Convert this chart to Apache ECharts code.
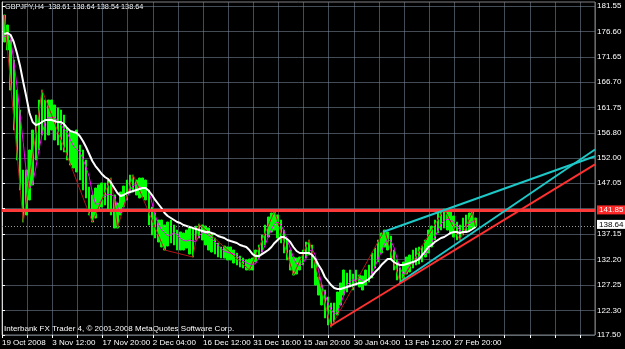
<!DOCTYPE html>
<html>
<head>
<meta charset="utf-8">
<style>html,body{margin:0;padding:0;background:#000;}#c{width:625px;height:349px;}</style>
<script src="https://cdn.jsdelivr.net/npm/echarts@6/dist/echarts.min.js"></script>
</head>
<body>
<div id="c"></div>
<script>
// ---- data (GBPJPY H4, one entry per 4 H4 bars) ----
const dateLabels = ["19 Oct 2008","3 Nov 12:00","17 Nov 20:00","2 Dec 04:00","16 Dec 12:00","31 Dec 16:00","15 Jan 20:00","30 Jan 04:00","13 Feb 12:00","27 Feb 20:00"];
const priceLabels = [117.50,122.30,127.25,132.20,137.15,147.05,152.00,156.80,161.75,166.70,171.65,176.60,181.55];
const gridLevels = [117.50,122.30,127.25,132.20,137.15,142.10,147.05,152.00,156.80,161.75,166.70,171.65,176.60,181.55];
const titleText = "GBPJPY,H4  138.61 138.64 138.54 138.64";
const footerText = "Interbank FX Trader 4, \u00A9 2001-2008 MetaQuotes Software Corp.";
const resistance = 141.85;
const bid = 138.64;

const highs = [179.79,177.84,174.92,171.03,165.19,161.30,149.62,149.62,153.51,157.40,
160.32,163.24,165.19,163.24,163.24,163.24,162.27,161.69,161.30,160.32,
157.79,157.01,156.82,157.40,154.48,153.51,151.56,146.31,144.75,146.11,
146.70,147.09,147.09,147.67,148.06,144.75,143.19,145.33,146.50,147.67,
148.64,148.64,147.67,148.06,148.06,147.67,145.72,142.41,141.25,139.88,
139.88,138.91,139.49,139.88,138.91,137.93,137.55,137.35,137.93,138.32,
138.32,138.71,139.10,138.91,138.71,138.32,137.16,136.38,135.41,134.63,
134.82,134.63,134.63,134.04,133.46,132.87,132.48,132.10,132.29,132.48,
134.04,135.02,136.96,138.91,140.47,141.25,141.64,140.86,139.88,137.93,
135.99,134.04,132.68,132.48,132.68,134.04,135.60,135.99,135.02,131.71,
128.79,127.23,126.26,124.89,123.73,123.73,125.87,127.62,130.15,129.56,
130.15,129.37,130.15,129.17,128.98,130.15,131.12,133.46,134.43,135.99,
137.35,137.93,137.55,136.77,134.04,132.10,130.54,131.71,132.68,133.07,
134.04,134.43,134.63,134.82,135.99,137.93,138.71,139.88,141.25,141.83,
142.02,141.44,141.83,140.66,139.49,138.91,140.27,140.86,141.25,141.44,
140.27];
const lows = [174.53,172.98,165.19,157.40,151.56,145.72,139.49,140.86,143.78,146.70,
151.56,153.51,156.43,155.46,156.43,157.40,155.46,154.48,153.51,153.12,
151.56,150.59,150.01,149.23,147.67,145.72,144.17,140.86,139.49,140.27,
141.83,142.41,142.80,141.83,140.86,138.32,138.32,140.86,142.41,143.78,
145.14,145.33,144.75,144.17,144.36,143.78,138.91,136.96,136.38,135.60,
134.63,134.04,134.82,135.41,135.02,134.04,134.04,134.04,134.43,133.26,
132.68,135.99,136.38,135.99,135.02,134.04,133.65,133.26,132.68,132.48,
132.48,132.10,132.10,131.51,131.12,130.73,130.54,130.15,130.15,130.15,
131.71,132.48,133.65,135.02,136.57,137.55,137.93,136.38,135.41,133.46,
132.10,130.15,129.17,129.37,130.15,131.12,132.48,133.07,130.54,127.23,
125.28,123.34,120.81,119.44,119.05,120.03,121.39,123.34,125.28,125.87,
126.84,126.26,127.23,126.84,126.26,127.23,127.81,128.59,130.54,131.71,
133.46,134.63,134.04,132.10,130.15,128.20,127.62,128.20,129.37,129.76,
130.54,131.12,131.32,131.71,132.68,133.46,134.63,135.99,137.35,137.93,
138.32,137.93,137.35,136.57,135.99,135.99,136.96,137.74,137.93,138.32,
138.52];
const slowMA = [176.09,176.29,175.90,174.53,172.39,169.86,166.75,163.83,160.71,158.96,
158.38,158.57,158.96,159.35,159.35,159.35,159.15,158.96,158.96,158.57,
157.79,157.21,157.01,156.82,156.23,155.26,154.09,152.73,151.37,150.39,
149.62,148.84,148.26,147.87,147.09,146.11,145.14,144.55,144.75,145.14,
145.33,145.53,145.72,145.92,146.11,146.11,145.53,144.75,143.78,143.00,
142.22,141.25,140.66,140.27,139.88,139.49,139.30,138.91,138.71,138.52,
138.32,138.13,137.93,137.74,137.55,137.55,137.35,137.16,136.77,136.57,
136.38,135.99,135.79,135.60,135.41,135.02,134.82,134.63,134.04,133.26,
132.87,132.87,133.26,133.65,134.04,134.63,135.41,135.99,136.57,136.57,
136.18,135.60,134.63,133.85,133.46,133.46,133.46,133.46,133.07,132.29,
131.12,130.15,128.79,128.01,127.23,126.65,126.45,126.45,126.65,126.84,
127.04,127.23,127.42,127.62,127.62,128.01,128.40,128.98,129.76,130.34,
131.12,131.71,132.29,132.29,131.71,131.32,131.12,131.12,131.32,131.51,
131.71,131.90,132.29,133.07,133.85,134.63,135.02,135.60,135.99,136.38,
136.57,136.96,137.35,137.55,137.55,137.35,137.55,137.55,137.74,138.13,
138.52];
const fastMA = [175.5,176.5,175.0,171.0,166.0,160.5,155.0,149.0,146.0,147.0,
150.0,153.5,156.5,159.0,159.8,159.8,159.9,159.2,158.4,157.6,
156.9,155.5,154.3,153.6,153.2,151.8,150.2,148.3,145.3,143.0,
143.0,143.9,144.6,144.9,144.8,144.4,142.5,141.3,142.5,144.2,
145.6,146.6,146.8,146.3,146.1,146.1,145.5,143.2,140.8,139.1,
138.0,137.4,136.8,137.0,137.4,137.0,136.3,135.9,135.8,136.0,
135.8,135.7,136.8,137.4,137.4,136.9,136.3,135.6,135.0,134.3,
133.8,133.6,133.4,133.3,132.9,132.4,131.9,131.6,131.3,131.2,
131.4,132.5,133.6,135.0,136.6,138.0,139.1,139.6,138.9,137.8,
136.1,134.4,132.6,131.3,131.0,131.4,132.4,133.7,134.2,133.0,
130.0,127.4,125.5,123.8,122.4,121.6,121.9,123.4,125.2,127.2,
127.8,128.3,128.0,128.5,128.1,127.8,128.5,129.4,130.9,132.3,
133.7,135.2,136.1,135.8,134.6,132.4,130.5,129.3,129.9,130.9,
131.4,132.2,132.7,133.0,133.3,134.2,135.5,136.6,137.8,139.1,
139.8,140.1,139.8,139.6,138.7,137.9,137.5,138.4,139.2,139.6,
139.8];
const zigzagCandle = [0,6,12,28,34,36,41,51,60,62,78,86,92,97,104,121,126,140,145,149,150];
const zigzagPrice = [179.79,139.49,165.19,139.49,148.06,138.32,148.64,134.04,132.68,139.10,130.15,141.64,129.17,135.99,119.05,137.93,127.62,142.02,135.99,141.44,138.52];
// trend lines: [bar, price] end points (bar = H4 bar number from 19 Oct 2008)
const redTrendBar = [418, 755];
const redTrendPrice = [119.25, 150.7];
const cyanUpperBar = [485, 755];
const cyanUpperPrice = [137.55, 152.3];
const cyanLowerBar = [507, 755];
const cyanLowerPrice = [127.81, 153.6];

// ---- build ----
const BARS_PER_CANDLE = 4;
const X_MAX = 755, X_STEP = 32;
const pos = i => i * BARS_PER_CANDLE + 3;
const FONT = "'Liberation Sans',Arial,sans-serif";
const GRID_STYLE = { color: '#7a8a9a', type: 'solid', width: 1, opacity: 0.55 };

const candles = highs.map((h, i) => [pos(i), lows[i], h, lows[i], h]);
const pairLine = (xs, ys) => xs.map((x, i) => [x, ys[i]]);

const chart = echarts.init(document.getElementById('c'), null, { renderer: 'canvas' });
chart.setOption({
  backgroundColor: '#000000',
  animation: false,
  grid: { left: 2, right: 30, top: 2, bottom: 14, show: true, backgroundColor: 'rgba(0,0,0,0)', borderColor: '#808080', borderWidth: 1, containLabel: false, outerBoundsMode: 'none' },
  xAxis: {
    type: 'value', min: 0, max: X_MAX, interval: X_STEP,
    axisLine: { show: false },
    axisTick: { show: true, length: 3, lineStyle: { color: '#ffffff' } },
    axisLabel: {
      color: '#ffffff', fontSize: 8, fontFamily: FONT, align: 'left', margin: 4,
      showMinLabel: true, showMaxLabel: false, hideOverlap: false,
      formatter: v => (v % 64 === 0 && dateLabels[v / 64]) ? dateLabels[v / 64] : ''
    },
    splitLine: { show: true, lineStyle: GRID_STYLE }
  },
  yAxis: {
    type: 'value', position: 'right', min: 117.5, max: 182.32,
    axisLine: { show: true, lineStyle: { color: '#d8d8d8', width: 1 } },
    axisTick: { show: true, length: 3, customValues: gridLevels, lineStyle: { color: '#ffffff' } },
    axisLabel: {
      customValues: priceLabels, color: '#ffffff', fontSize: 8, fontFamily: FONT, margin: 2,
      hideOverlap: false, formatter: v => v.toFixed(2)
    },
    splitLine: { show: true, lineStyle: GRID_STYLE }
  },
  graphic: [
    { type: 'text', left: 5, top: 3, scaleX: 0.91, originX: 0, style: { text: titleText, fill: '#ffffff', font: '8px ' + FONT } },
    { type: 'text', left: 4, top: 325, style: { text: footerText, fill: '#ffffff', font: '8px ' + FONT } }
  ],
  series: [
    {
      type: 'candlestick', data: candles, encode: { x: 0, y: [1, 2, 3, 4] },
      barWidth: 2, silent: true, z: 2,
      itemStyle: { color: '#00ff00', color0: '#00ff00', borderColor: '#00ff00', borderColor0: '#00ff00', borderWidth: 1 }
    },
    { type: 'line', data: fastMA.map((v, i) => [pos(i), v]), symbol: 'none', silent: true, z: 3,
      lineStyle: { color: '#ff00ff', width: 1 } },
    { type: 'line', data: zigzagCandle.map((c, i) => [pos(c), zigzagPrice[i]]), symbol: 'none', silent: true, z: 3,
      lineStyle: { color: '#b01818', width: 1 } },
    { type: 'line', data: slowMA.map((v, i) => [pos(i), v]), symbol: 'none', silent: true, z: 4,
      lineStyle: { color: '#ffffff', width: 2 } },
    { type: 'line', data: pairLine(cyanUpperBar, cyanUpperPrice), symbol: 'none', silent: true, z: 5,
      lineStyle: { color: '#1ec8c8', width: 2 } },
    { type: 'line', data: pairLine(cyanLowerBar, cyanLowerPrice), symbol: 'none', silent: true, z: 5,
      lineStyle: { color: '#1ec8c8', width: 2 } },
    { type: 'line', data: pairLine(redTrendBar, redTrendPrice), symbol: 'none', silent: true, z: 5,
      lineStyle: { color: '#ff3030', width: 2 },
      markLine: {
        silent: true, symbol: ['none', 'none'], animation: false,
        data: [
          { yAxis: bid, lineStyle: { color: '#9a9a9a', width: 1, type: [1, 2] },
            label: { show: true, position: 'end', distance: 2, offset: [0, -2], formatter: bid.toFixed(2), color: '#000000',
              backgroundColor: '#ffffff', padding: [1, 2, 0, 2], fontSize: 8, fontFamily: FONT } },
          { yAxis: resistance, lineStyle: { color: '#ff3838', width: 3, type: 'solid' },
            label: { show: true, position: 'end', distance: 2, formatter: resistance.toFixed(2), color: '#ffffff',
              backgroundColor: '#ff2828', padding: [1, 2, 0, 2], fontSize: 8, fontFamily: FONT } }
        ]
      }
    }
  ]
});
</script>
</body>
</html>
